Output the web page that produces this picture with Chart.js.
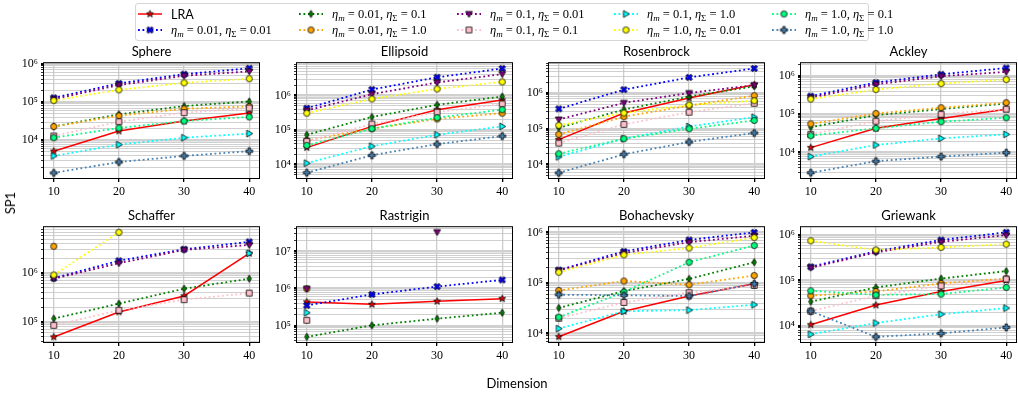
<!DOCTYPE html>
<html>
<head>
<meta charset="utf-8">
<script src="https://cdn.jsdelivr.net/npm/chart.js@4.4.0/dist/chart.umd.min.js"></script>
<style>
  body { margin: 0; background: #fff; width: 1018px; height: 395px; position: relative; overflow: hidden;
         font-family: Lato, "DejaVu Sans", sans-serif; color: #000; }
  canvas.panel { position: absolute; }
  .txt { position: absolute; white-space: nowrap; transform: translate(-50%, -50%); font-size: 13px; }
  #legend { position: absolute; left: 135px; top: 3px; width: 734px; height: 38px; border: 1px solid #d6d6d6;
            border-radius: 3px; box-sizing: border-box; }
  .item { position: absolute; height: 14px; display: flex; align-items: center; font-size: 12.5px; white-space: nowrap; }
  .item canvas { margin-right: 9px; }
  .math { font-family: "Liberation Serif", "DejaVu Serif", serif; font-size: 12.5px; }
  .math sub { font-size: 0.72em; vertical-align: -0.3em; line-height: 0; }
</style>
</head>
<body>
<div id="legend"></div>
<script>
// x values and panel names
const dims = [10, 20, 30, 40];
const functions = ['Sphere', 'Ellipsoid', 'Rosenbrock', 'Ackley', 'Schaffer', 'Rastrigin', 'Bohachevsky', 'Griewank'];

// one row per function (same order as above), one value per dimension
const lra = [
    [5.2e3, 1.75e4, 3.2e4, 5.2e4],
    [3.1e4, 1.28e5, 3.9e5, 7.5e5],
    [5.0e4, 2.8e5, 7.4e5, 1.75e6],
    [1.35e4, 4.3e4, 7.8e4, 1.36e5],
    [4.9e4, 1.6e5, 3.4e5, 2.56e6],
    [4.4e5, 3.8e5, 4.6e5, 5.4e5],
    [8.6e3, 2.75e4, 5.5e4, 9.6e4],
    [1.05e4, 2.86e4, 5.7e4, 1.0e5]
];
const m001s001 = [
    [1.3e5, 3.1e5, 5.4e5, 7.7e5],
    [4.3e5, 1.5e6, 3.4e6, 6.1e6],
    [3.66e5, 1.27e6, 2.8e6, 5.0e6],
    [2.97e5, 6.7e5, 1.1e6, 1.6e6],
    [7.9e5, 1.8e6, 3.1e6, 4.4e6],
    [3.56e5, 7.0e5, 1.14e6, 1.72e6],
    [1.8e5, 4.2e5, 7.1e5, 1.0e6],
    [2.0e5, 4.4e5, 7.8e5, 1.15e6]
];
const m001s01 = [
    [2.3e4, 4.8e4, 7.9e4, 1.04e5],
    [7.3e4, 2.4e5, 5.4e5, 9.4e5],
    [1.08e5, 3.5e5, 8.1e5, 1.57e6],
    [4.6e4, 9.5e4, 1.36e5, 1.9e5],
    [1.17e5, 2.37e5, 4.8e5, 7.7e5],
    [5.1e4, 1.04e5, 1.57e5, 2.27e5],
    [3.2e4, 6.9e4, 1.2e5, 2.57e5],
    [3.4e4, 7.0e4, 1.1e5, 1.6e5]
];
const m001s1 = [
    [2.3e4, 4.4e4, 6.7e4, 7.7e4],
    [5.0e4, 1.1e5, 2.1e5, 3.1e5],
    [7.0e4, 2.2e5, 4.5e5, 8.6e5],
    [5.6e4, 1.05e5, 1.48e5, 2.0e5],
    [3.56e6, null, null, null],
    [1.0e6, null, null, null],
    [7.1e4, 1.09e5, 9.2e4, 1.4e5],
    [4.6e4, 5.7e4, 8.6e4, 1.1e5]
];
const m01s001 = [
    [1.2e5, 2.8e5, 4.9e5, 6.4e5],
    [3.7e5, 1.1e6, 2.4e6, 4.2e6],
    [1.84e5, 5.4e5, 1.02e6, 1.7e6],
    [2.7e5, 6.0e5, 9.8e5, 1.27e6],
    [7.7e5, 1.6e6, 3.0e6, 3.8e6],
    [1.0e6, null, 3.3e7, null],
    [1.75e5, 3.9e5, 6.4e5, 8.6e5],
    [1.9e5, 4.15e5, 7.1e5, 1.0e6]
];
const m01s01 = [
    [1.3e4, 3.07e4, 5.3e4, 7.0e4],
    [4.7e4, 1.5e5, 3.3e5, 5.75e5],
    [4.0e4, 1.34e5, 2.95e5, 5.26e5],
    [3.0e4, 6.6e4, 1.0e5, 1.36e5],
    [8.5e4, 1.73e5, 2.86e5, 3.9e5],
    [1.42e5, null, null, null],
    [2.0e4, 4.1e4, 6.4e4, 8.9e4],
    [2.1e4, 4.6e4, 7.6e4, 1.07e5]
];
const m01s1 = [
    [3.9e3, 7.7e3, 1.17e4, 1.5e4],
    [1.1e4, 3.4e4, 7.3e4, 1.28e5],
    [1.64e4, 5.3e4, 1.17e5, 2.14e5],
    [7.9e3, 1.58e4, 2.35e4, 3.0e4],
    [null, null, null, 2.56e6],
    [2.27e5, null, null, null],
    [1.25e4, 2.75e4, 2.9e4, 3.7e4],
    [6.5e3, 1.15e4, 1.8e4, 2.45e4]
];
const m1s001 = [
    [1.1e5, 2.1e5, 3.2e5, 4.1e5],
    [3.1e5, 8.0e5, 1.56e6, 2.5e6],
    [1.26e5, 2.8e5, 4.7e5, 6.2e5],
    [2.48e5, 4.4e5, 6.3e5, 8.0e5],
    [9.2e5, 6.9e6, null, null],
    [null, null, null, null],
    [1.63e5, 3.6e5, 4.9e5, 7.9e5],
    [7.5e5, 4.7e5, 5.35e5, 6.3e5]
];
const m1s01 = [
    [1.17e4, 2.1e4, 3.2e4, 4.1e4],
    [3.6e4, 1.1e5, 2.3e5, 3.9e5],
    [2.0e4, 5.3e4, 1.01e5, 1.73e5],
    [2.76e4, 4.3e4, 6.4e4, 8.1e4],
    [null, null, null, null],
    [null, null, null, null],
    [2.1e4, 6.6e4, 2.57e5, 5.5e5],
    [5.9e4, 4.8e4, 5.0e4, 7.0e4]
];
const m1s1 = [
    [1.4e3, 2.7e3, 3.9e3, 5.2e3],
    [5.8e3, 1.86e4, 3.9e4, 6.7e4],
    [5.8e3, 1.94e4, 4.3e4, 7.7e4],
    [3.0e3, 6.0e3, 7.9e3, 1.0e4],
    [null, null, null, null],
    [null, null, null, null],
    [5.85e4, 5.7e4, 5.5e4, 9.6e4],
    [2.1e4, 5.7e3, 6.8e3, 9.2e3]
];

// y axis limits per panel, as powers of ten
const yLowExp = [3.013, 3.61, 3.62, 3.34, 4.587, 4.57, 3.831, 3.642];
const yHighExp = [6.02, 6.94, 6.847, 6.33, 6.944, 7.65, 6.103, 6.174];

const etaM = ['0.01', '0.01', '0.01', '0.1', '0.1', '0.1', '1.0', '1.0', '1.0'];
const etaS = ['0.01', '0.1', '1.0', '0.01', '0.1', '1.0', '0.01', '0.1', '1.0'];

const series = [
    { values: lra, color: 'red', marker: 'star', solid: true },
    { values: m001s001, color: 'blue', marker: 'x' },
    { values: m001s01, color: 'green', marker: 'thin' },
    { values: m001s1, color: 'orange', marker: 'circle' },
    { values: m01s001, color: 'purple', marker: 'tridown' },
    { values: m01s01, color: 'pink', marker: 'square' },
    { values: m01s1, color: 'cyan', marker: 'triright' },
    { values: m1s001, color: 'yellow', marker: 'circle' },
    { values: m1s01, color: 'springgreen', marker: 'circle' },
    { values: m1s1, color: 'steelblue', marker: 'plus' }
];

const dotted = [1.8, 2.7];

function makeMarker(shape, fill) {
    const s = 11, c = document.createElement('canvas');
    c.width = s; c.height = s;
    const g = c.getContext('2d');
    g.translate(s / 2, s / 2);
    g.beginPath();
    const r = 3.1;
    if (shape === 'circle') {
        g.arc(0, 0, r, 0, Math.PI * 2);
    } else if (shape === 'square') {
        g.rect(-2.9, -2.9, 5.8, 5.8);
    } else if (shape === 'tridown') {
        g.moveTo(-3.5, -2.5); g.lineTo(3.5, -2.5); g.lineTo(0, 3.5); g.closePath();
    } else if (shape === 'triright') {
        g.moveTo(-2.5, -3.5); g.lineTo(-2.5, 3.5); g.lineTo(3.5, 0); g.closePath();
    } else if (shape === 'thin') {
        g.moveTo(0, -3.7); g.lineTo(2.1, 0); g.lineTo(0, 3.7); g.lineTo(-2.1, 0); g.closePath();
    } else if (shape === 'star') {
        for (let k = 0; k < 10; k++) {
            const rr = k % 2 ? 1.5 : 3.7, a = -Math.PI / 2 + k * Math.PI / 5;
            g.lineTo(rr * Math.cos(a), rr * Math.sin(a));
        }
        g.closePath();
    } else {
        // filled plus, rotated for the X
        const w = 1.15, R = 3.5;
        const pts = [[-w, -R], [w, -R], [w, -w], [R, -w], [R, w], [w, w], [w, R], [-w, R], [-w, w], [-R, w], [-R, -w], [-w, -w]];
        const rot = shape === 'x' ? Math.PI / 4 : 0;
        pts.forEach(([px, py]) => {
            g.lineTo(px * Math.cos(rot) - py * Math.sin(rot), px * Math.sin(rot) + py * Math.cos(rot));
        });
        g.closePath();
    }
    g.fillStyle = fill;
    g.fill();
    g.lineWidth = 0.8;
    g.strokeStyle = '#000';
    g.stroke();
    return c;
}

series.forEach(s => { s.img = makeMarker(s.marker, s.color); });

// legend
const legend = document.getElementById('legend');
const handleX = [138, 299, 457, 614, 772];
const rowY = [14, 30];
series.forEach((s, i) => {
    const col = Math.floor(i / 2), row = i % 2;
    const item = document.createElement('div');
    item.className = 'item';
    item.style.left = (handleX[col] - 136) + 'px';
    item.style.top = (rowY[row] - 4 - 7) + 'px';
    const h = document.createElement('canvas');
    h.width = 24; h.height = 14;
    const g = h.getContext('2d');
    g.strokeStyle = s.color;
    g.lineWidth = s.solid ? 1.5 : 1.8;
    if (!s.solid) g.setLineDash(dotted);
    g.beginPath(); g.moveTo(0, 7); g.lineTo(24, 7); g.stroke();
    g.drawImage(s.img, 12 - s.img.width / 2, 7 - s.img.height / 2);
    item.appendChild(h);
    const t = document.createElement('span');
    if (i === 0) {
        t.textContent = 'LRA';
    } else {
        t.className = 'math';
        t.innerHTML = '<i>η</i><sub><i>m</i></sub> = ' + etaM[i - 1] + ', <i>η</i><sub>Σ</sub> = ' + etaS[i - 1];
    }
    item.appendChild(t);
    legend.appendChild(item);
});

// panel geometry (plot areas)
const colLeft = [44, 297, 549, 801];
const rowTop = [63, 227];
const plotW = 215, plotH = 115;
const padL = 44, padT = 10, padR = 10, padB = 26;

const SUP = '⁰¹²³⁴⁵⁶⁷⁸⁹';
function isDecade(v) {
    const l = Math.log10(v);
    return Math.abs(l - Math.round(l)) < 1e-9;
}

const frame = {
    id: 'frame',
    afterDraw(chart) {
        const a = chart.chartArea, g = chart.ctx;
        g.save();
        g.strokeStyle = '#000';
        g.lineWidth = 1;
        g.strokeRect(a.left - 0.5, a.top - 0.5, a.right - a.left + 1, a.bottom - a.top + 1);
        g.restore();
    }
};

functions.forEach((name, p) => {
    const col = p % 4, row = Math.floor(p / 4);
    const L = colLeft[col], T = rowTop[row];

    const title = document.createElement('div');
    title.className = 'txt';
    title.textContent = name;
    title.style.left = (L + plotW / 2) + 'px';
    title.style.top = (T - 12) + 'px';
    document.body.appendChild(title);

    const cv = document.createElement('canvas');
    cv.className = 'panel';
    cv.width = padL + plotW + padR;
    cv.height = padT + plotH + padB;
    cv.style.left = (L - padL) + 'px';
    cv.style.top = (T - padT) + 'px';
    document.body.appendChild(cv);

    const datasets = series.map((s, i) => ({
        data: dims.map((d, j) => ({ x: d, y: s.values[p][j] })),
        borderColor: s.color,
        backgroundColor: s.color,
        borderWidth: s.solid ? 1.5 : 1.8,
        borderDash: s.solid ? [] : dotted,
        pointStyle: s.img,
        pointRadius: 3,
        order: -i,
        spanGaps: false
    }));

    const lo = Math.pow(10, yLowExp[p]), hi = Math.pow(10, yHighExp[p]);

    new Chart(cv, {
        type: 'line',
        data: { datasets: datasets },
        options: {
            responsive: false,
            animation: false,
            devicePixelRatio: 1,
            layout: { padding: { left: 0, top: padT, right: padR, bottom: 0 } },
            plugins: { legend: { display: false }, tooltip: { enabled: false } },
            scales: {
                x: {
                    type: 'linear',
                    min: 8.5,
                    max: 41.5,
                    afterBuildTicks: s => { s.ticks = dims.map(v => ({ value: v })); },
                    afterFit: s => { s.height = padB; },
                    border: { display: false },
                    grid: { color: '#cccccc', lineWidth: 1.3, tickColor: '#000', tickLength: 4 },
                    ticks: {
                        autoSkip: false, maxRotation: 0, padding: 3, color: '#000',
                        font: { family: '"Liberation Serif", "DejaVu Serif", serif', size: 12 }
                    }
                },
                y: {
                    type: 'logarithmic',
                    min: lo,
                    max: hi,
                    afterBuildTicks: s => {
                        const t = [];
                        for (let e = Math.floor(yLowExp[p]); e <= Math.ceil(yHighExp[p]); e++) {
                            for (let k = 1; k < 10; k++) {
                                const v = k * Math.pow(10, e);
                                if (v >= lo && v <= hi) t.push({ value: v });
                            }
                        }
                        s.ticks = t;
                    },
                    afterFit: s => { s.width = padL; },
                    border: { display: false },
                    grid: {
                        color: c => (c.tick && isDecade(c.tick.value)) ? '#d0d0d0' : '#c4c4c4',
                        lineWidth: c => (c.tick && isDecade(c.tick.value)) ? 2.5 : 0.8,
                        tickColor: '#000',
                        tickLength: 3
                    },
                    ticks: {
                        autoSkip: false, padding: 3, color: '#000',
                        font: { family: '"Liberation Serif", "DejaVu Serif", serif', size: 12 },
                        callback: v => {
                            if (!isDecade(v)) return '';
                            const e = String(Math.round(Math.log10(v)));
                            return '10' + e.split('').map(d => SUP[+d]).join('');
                        }
                    }
                }
            }
        },
        plugins: [frame]
    });
});

// axis labels for the whole figure
const xl = document.createElement('div');
xl.className = 'txt';
xl.textContent = 'Dimension';
xl.style.left = '517px';
xl.style.top = '383px';
document.body.appendChild(xl);

const yl = document.createElement('div');
yl.className = 'txt';
yl.textContent = 'SP1';
yl.style.left = '10px';
yl.style.top = '203px';
yl.style.transform = 'translate(-50%, -50%) rotate(-90deg)';
document.body.appendChild(yl);
</script>
</body>
</html>
